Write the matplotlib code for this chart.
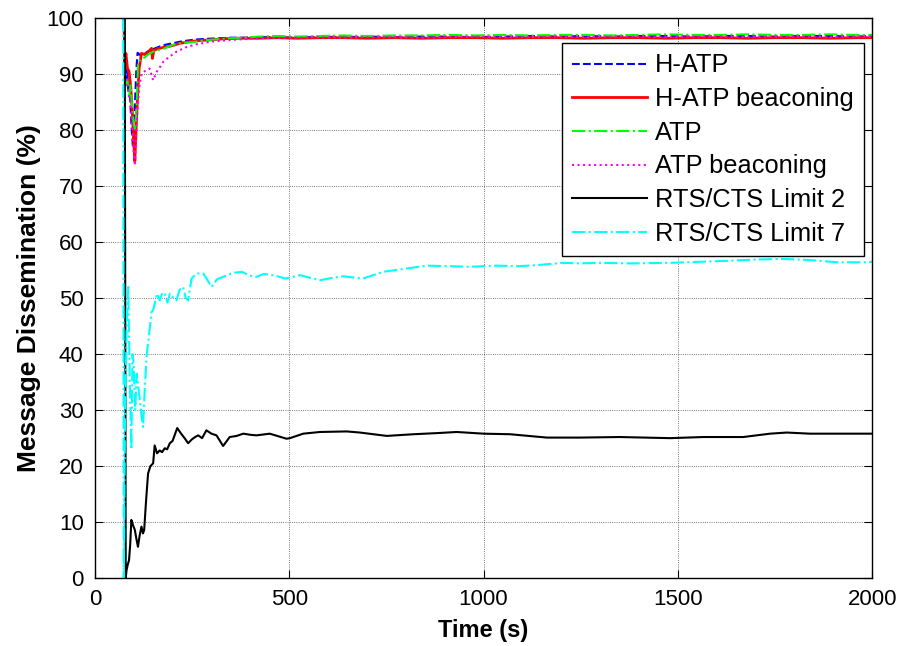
import matplotlib
matplotlib.use("Agg")
import matplotlib.pyplot as plt

plt.rcParams['font.family'] = ['Liberation Sans', 'DejaVu Sans']

# shared late-time sampling (s) for the four upper curves
t_late = [420, 470, 520, 580, 640, 700, 770, 840, 910, 980, 1050, 1120, 1190,
          1260, 1330, 1400, 1470, 1540, 1610, 1680, 1750, 1820, 1890, 1960, 2000]

# H-ATP
t_hatp = [75, 77, 80, 83, 86, 89, 92, 95, 98, 101, 104, 107, 110, 115, 120, 128,
          135, 145, 155, 170, 185, 200, 220, 240, 265, 290, 320, 350, 380] + t_late
y_hatp = [100, 93, 89, 91, 87, 89, 84, 80, 77, 79, 86, 91, 93.8, 93.5, 93.2, 93.6,
          94.0, 94.3, 94.6, 95.0, 95.3, 95.5, 95.8, 96.0, 96.2, 96.3, 96.4, 96.5, 96.5,
          96.6, 96.6, 96.5, 96.7, 96.6, 96.7, 96.6, 96.7, 96.7, 96.6, 96.7, 96.8, 96.7,
          96.8, 96.7, 96.8, 96.8, 96.7, 96.8, 96.8, 96.7, 96.8, 96.8, 96.7, 96.8]

# H-ATP beaconing
t_hatp_b = [75, 77, 80, 84, 88, 92, 96, 100, 103, 106, 110, 114, 120, 128, 135, 142,
            146, 148, 152, 160, 167, 178, 189, 200, 219, 245, 270, 296, 330, 370] + t_late
y_hatp_b = [100, 92, 93.7, 91, 90.5, 88, 84, 78, 74.5, 80, 86, 91, 93.7, 93.5, 93.8, 94.3,
            94.6, 92.8, 94.2, 94.5, 94.6, 94.8, 94.9, 95.1, 95.5, 95.8, 96.0, 96.1, 96.3, 96.4,
            96.4, 96.5, 96.4, 96.5, 96.5, 96.4, 96.5, 96.4, 96.5, 96.5, 96.4, 96.5, 96.5,
            96.4, 96.5, 96.5, 96.4, 96.5, 96.5, 96.4, 96.5, 96.5, 96.4, 96.5, 96.5]

# ATP
t_atp = [75, 77, 80, 84, 88, 92, 96, 100, 104, 108, 111, 116, 122, 129, 137, 150,
         165, 180, 200, 225, 250, 280, 310, 350, 385] + t_late
y_atp = [100, 91, 88, 89, 86, 88, 84, 81, 80, 85, 91.6, 92.5, 92.8, 93.0, 93.5, 94.0,
         94.3, 94.6, 95.2, 95.6, 95.7, 96.0, 96.2, 96.4, 96.5,
         96.7, 96.8, 96.7, 96.8, 96.9, 96.8, 96.9, 96.9, 97.0, 96.9, 97.0, 96.9, 97.0,
         97.0, 96.9, 97.0, 97.1, 97.0, 97.0, 97.1, 97.0, 97.0, 97.1, 97.0, 97.0]

# ATP beaconing
t_atp_b = [75, 77, 80, 84, 88, 92, 96, 100, 103, 106, 110, 115, 120, 128, 133, 141,
           150, 160, 170, 176, 190, 210, 235, 260, 300, 350, 400] + t_late
y_atp_b = [100, 92, 90, 88, 86, 85, 81, 76, 73.7, 78, 84, 88, 90, 90.5, 90.7, 91,
           88.9, 90.5, 91.5, 92.2, 93, 94, 94.8, 95.3, 95.8, 96.1, 96.3,
           96.4, 96.5, 96.5, 96.6, 96.5, 96.6, 96.6, 96.5, 96.6, 96.7, 96.6, 96.6, 96.7,
           96.6, 96.7, 96.7, 96.6, 96.7, 96.7, 96.6, 96.7, 96.7, 96.6, 96.7, 96.7]

# RTS/CTS Limit 2
t_rts2 = [77, 79.5, 81.5, 85, 88, 91, 94, 98, 103, 107, 111, 115, 120, 124, 127, 132,
          137, 143, 150, 154, 160, 167, 173, 180, 186, 193, 200, 212, 222, 231, 240, 250,
          258, 266, 276, 287, 300, 313, 330, 347, 365, 382, 400, 416, 450, 493, 502, 536,
          579, 648, 682, 751, 820, 880, 931, 1000, 1068, 1163, 1248, 1350, 1480, 1565,
          1668, 1737, 1780, 1840, 1920, 1987, 2000]
y_rts2 = [100, 0, 1.4, 2.5, 3.2, 6, 10.4, 9.5, 8.6, 7, 5.6, 7.5, 9.2, 8, 8.6, 14,
          18.7, 20, 20.5, 23.7, 22.3, 22.8, 22.5, 23.2, 23.0, 24.1, 24.5, 26.8, 25.8, 25,
          24.1, 24.8, 25.2, 25.5, 25.0, 26.4, 25.8, 25.5, 23.6, 25.2, 25.4, 25.8, 25.6,
          25.5, 25.8, 24.9, 25.0, 25.8, 26.1, 26.2, 26.0, 25.4, 25.7, 25.9, 26.1, 25.8,
          25.7, 25.1, 25.1, 25.2, 25.0, 25.2, 25.2, 25.8, 26.0, 25.8, 25.8, 25.8, 25.8]

# RTS/CTS Limit 7
t_rts7 = [73, 74.5, 78, 82, 86, 90, 94, 97, 100, 104, 108, 112, 116, 120, 124, 128,
          133, 137, 142, 146, 150, 154, 160, 167, 174, 180, 187, 193, 200, 210, 218, 227,
          234, 240, 249, 262, 279, 290, 300, 315, 330, 355, 378, 400, 416, 434, 451, 470,
          490, 528, 579, 610, 639, 690, 742, 803, 855, 910, 965, 1035, 1090, 1138, 1205,
          1248, 1300, 1380, 1480, 1560, 1640, 1704, 1771, 1840, 1910, 1987, 2000]
y_rts7 = [100, 0, 30, 45, 52, 35, 23, 40, 38.3, 30, 36.5, 34, 31.8, 29, 27, 33,
          39.5, 42, 44.9, 47.5, 47.9, 49, 50.8, 49.6, 51, 50.8, 49.2, 50.8, 50.2, 49.6,
          51.5, 52, 50, 49.6, 53.5, 54.4, 54.4, 53.2, 52, 53.4, 53.8, 54.5, 54.7, 54.0,
          53.8, 54.3, 54.2, 53.9, 53.5, 54.1, 53.2, 53.6, 53.9, 53.5, 54.7, 55.3, 55.8,
          55.7, 55.6, 55.8, 55.7, 55.9, 56.3, 56.2, 56.3, 56.2, 56.3, 56.5, 56.7, 56.9,
          57.0, 56.8, 56.4, 56.4, 56.5]

fig = plt.figure(figsize=(9.03, 6.46), dpi=100)
ax = fig.add_axes([0.105, 0.105, 0.861, 0.867])

ax.plot(t_hatp, y_hatp, color='#0000ff', ls='--', lw=1.5, label='H-ATP')
ax.plot(t_hatp_b, y_hatp_b, color='#ff0000', ls='-', lw=2, label='H-ATP beaconing')
ax.plot(t_atp, y_atp, color='#00ff00', ls='-.', lw=1.5, label='ATP')
ax.plot(t_atp_b, y_atp_b, color='#ff00ff', ls=':', lw=1.5, label='ATP beaconing')
ax.plot(t_rts2, y_rts2, color='black', ls='-', lw=1.5, label='RTS/CTS Limit 2')
ax.plot(t_rts7, y_rts7, color='#00ffff', ls='-.', lw=1.5, label='RTS/CTS Limit 7')

ax.set_xlim(0, 2000)
ax.set_ylim(0, 100)
ax.set_xticks(range(0, 2001, 500))
ax.set_yticks(range(0, 101, 10))
ax.grid(True, color='black', ls=':', lw=0.6, alpha=0.7)
ax.tick_params(direction='in', top=True, right=True, length=6, labelsize=16, pad=8)
for s in ax.spines.values():
    s.set_linewidth(1.0)

ax.set_xlabel('Time (s)', fontsize=17, fontweight='bold', labelpad=6)
ax.set_ylabel('Message Dissemination (%)', fontsize=19, fontweight='bold', labelpad=4)

leg = ax.legend(loc='upper right', bbox_to_anchor=(0.989, 0.955), fontsize=18.3,
                fancybox=False, framealpha=1, edgecolor='black', handlelength=2.95,
                handletextpad=0.3, labelspacing=0.38, borderpad=0.4, borderaxespad=0)
leg.get_frame().set_linewidth(1.0)

fig.savefig('out.png', dpi=100)
